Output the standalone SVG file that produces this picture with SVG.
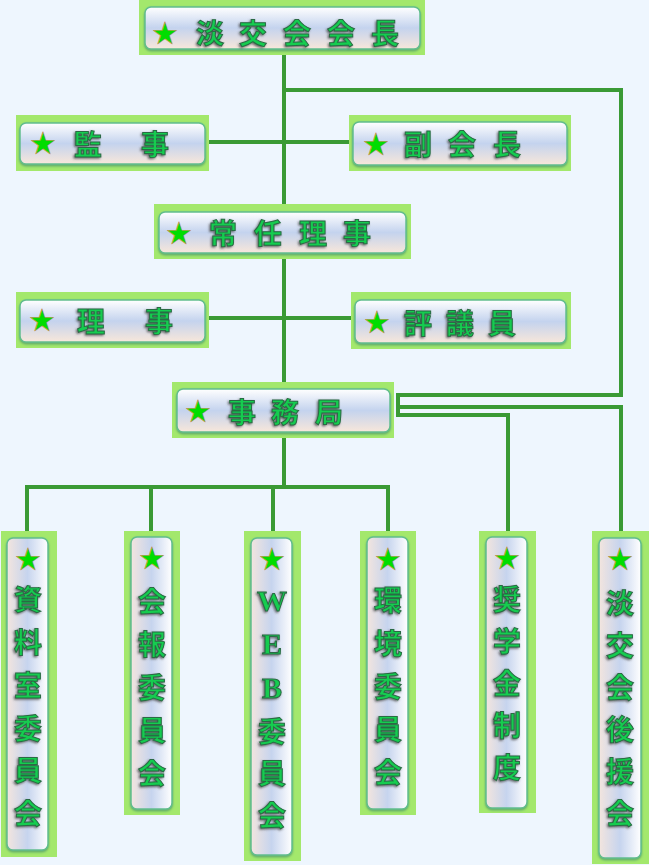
<svg xmlns="http://www.w3.org/2000/svg" width="649" height="865" viewBox="0 0 649 865">
<defs>
<linearGradient id="gh" x1="0" y1="0" x2="0" y2="1">
<stop offset="0" stop-color="#ffffff"/>
<stop offset="0.5" stop-color="#c4d3ee"/>
<stop offset="1" stop-color="#f8e7da"/>
</linearGradient>
<linearGradient id="gv" x1="0" y1="0" x2="1" y2="0">
<stop offset="0" stop-color="#f3e5de"/>
<stop offset="0.5" stop-color="#c6d4ee"/>
<stop offset="1" stop-color="#ffffff"/>
</linearGradient>
<filter id="bs" x="-20%" y="-20%" width="140%" height="140%">
<feDropShadow dx="0" dy="1.5" stdDeviation="1.2" flood-color="#3a8a6a" flood-opacity="0.7"/>
</filter>
<filter id="ts" x="-20%" y="-20%" width="140%" height="140%">
<feDropShadow dx="-1.2" dy="1.2" stdDeviation="0.8" flood-color="#444" flood-opacity="0.8"/>
</filter>
</defs>
<style>
.bg{fill:#eef6fe}
.o{fill:#a3e86c}
.ih{fill:url(#gh);stroke:#62bd8e;stroke-width:1.5;filter:url(#bs)}
.iv{fill:url(#gv);stroke:#62bd8e;stroke-width:1.5;filter:url(#bs)}
.t{font-family:"Noto Sans CJK JP","Noto Sans CJK SC",sans-serif;font-weight:bold;font-size:28px;fill:#12cc50;stroke:#2a6a44;stroke-width:1;text-anchor:middle;dominant-baseline:central;filter:url(#ts)}
.w{font-family:"Liberation Serif",serif;font-weight:bold;font-size:30px}
.s{font-family:"Noto Sans CJK JP","Noto Sans CJK SC",sans-serif;font-size:25px;fill:#00dd00;stroke:#c98a55;stroke-width:0.6;text-anchor:middle;dominant-baseline:central}
.c{fill:none;stroke:#3a9a35;stroke-width:4;stroke-linejoin:miter}
</style>
<rect class="bg" x="0" y="0" width="649" height="865"/>
<g id="connectors">
<path class="c" d="M284,55 V382"/>
<path class="c" d="M284,90 H621 V395 H398 V415 H508 V531"/>
<path class="c" d="M398,407 H621 V531"/>
<path class="c" d="M209,142 H349"/>
<path class="c" d="M209,318 H351"/>
<path class="c" d="M284,438 V487"/>
<path class="c" d="M27,531 V487 H388 V531"/>
<path class="c" d="M151,487 V531"/>
<path class="c" d="M273,487 V531"/>
</g>
<g id="n-kaicho">
<rect class="o" x="139" y="0" width="286" height="55"/>
<rect class="ih" x="145" y="7" width="275" height="42" rx="6"/>
<text class="s" x="165" y="31">★</text>
<text class="t" x="210" y="32">淡</text>
<text class="t" x="253" y="32">交</text>
<text class="t" x="297" y="32">会</text>
<text class="t" x="341" y="32">会</text>
<text class="t" x="385" y="32">長</text>
</g>
<g id="n-kanji">
<rect class="o" x="16" y="115" width="193" height="56"/>
<rect class="ih" x="20" y="123" width="185" height="41" rx="6"/>
<text class="s" x="43" y="141">★</text>
<text class="t" x="88" y="143">監</text>
<text class="t" x="155" y="143">事</text>
</g>
<g id="n-fukukaicho">
<rect class="o" x="349" y="115" width="222" height="56"/>
<rect class="ih" x="353" y="122" width="214" height="43" rx="6"/>
<text class="s" x="376" y="142">★</text>
<text class="t" x="418" y="143">副</text>
<text class="t" x="462" y="143">会</text>
<text class="t" x="507" y="143">長</text>
</g>
<g id="n-joninriji">
<rect class="o" x="154" y="204" width="257" height="55"/>
<rect class="ih" x="159" y="212" width="247" height="41" rx="6"/>
<text class="s" x="179" y="231">★</text>
<text class="t" x="223" y="232">常</text>
<text class="t" x="268" y="232">任</text>
<text class="t" x="313" y="232">理</text>
<text class="t" x="357" y="232">事</text>
</g>
<g id="n-riji">
<rect class="o" x="16" y="292" width="193" height="56"/>
<rect class="ih" x="20" y="300" width="185" height="42" rx="6"/>
<text class="s" x="42" y="318">★</text>
<text class="t" x="91" y="320">理</text>
<text class="t" x="159" y="320">事</text>
</g>
<g id="n-hyogiin">
<rect class="o" x="351" y="292" width="220" height="57"/>
<rect class="ih" x="355" y="300" width="211" height="43" rx="6"/>
<text class="s" x="377" y="320">★</text>
<text class="t" x="418" y="322">評</text>
<text class="t" x="460" y="322">議</text>
<text class="t" x="502" y="322">員</text>
</g>
<g id="n-jimukyoku">
<rect class="o" x="172" y="382" width="222" height="56"/>
<rect class="ih" x="177" y="389" width="213" height="43" rx="6"/>
<text class="s" x="198" y="409">★</text>
<text class="t" x="242" y="411">事</text>
<text class="t" x="285" y="411">務</text>
<text class="t" x="329" y="411">局</text>
</g>
<g id="n-shiryoshitsu">
<rect class="o" x="1" y="531" width="56" height="326"/>
<rect class="iv" x="7" y="538" width="41" height="312" rx="6"/>
<text class="s" x="28" y="557">★</text>
<text class="t" x="28" y="598">資</text>
<text class="t" x="28" y="641">料</text>
<text class="t" x="28" y="684">室</text>
<text class="t" x="28" y="727">委</text>
<text class="t" x="28" y="769">員</text>
<text class="t" x="28" y="812">会</text>
</g>
<g id="n-kaiho">
<rect class="o" x="124" y="531" width="56" height="284"/>
<rect class="iv" x="131" y="537" width="41" height="272" rx="6"/>
<text class="s" x="152" y="556">★</text>
<text class="t" x="152" y="600">会</text>
<text class="t" x="152" y="643">報</text>
<text class="t" x="152" y="686">委</text>
<text class="t" x="152" y="729">員</text>
<text class="t" x="152" y="772">会</text>
</g>
<g id="n-web">
<rect class="o" x="244" y="531" width="57" height="330"/>
<rect class="iv" x="251" y="538" width="41" height="317" rx="6"/>
<text class="s" x="272" y="557">★</text>
<text class="t w" x="272" y="600">W</text>
<text class="t w" x="272" y="643">E</text>
<text class="t w" x="272" y="687">B</text>
<text class="t" x="272" y="730">委</text>
<text class="t" x="272" y="772">員</text>
<text class="t" x="272" y="814">会</text>
</g>
<g id="n-kankyo">
<rect class="o" x="360" y="531" width="56" height="284"/>
<rect class="iv" x="367" y="537" width="41" height="272" rx="6"/>
<text class="s" x="388" y="557">★</text>
<text class="t" x="388" y="599">環</text>
<text class="t" x="388" y="642">境</text>
<text class="t" x="388" y="685">委</text>
<text class="t" x="388" y="728">員</text>
<text class="t" x="388" y="771">会</text>
</g>
<g id="n-shogakukin">
<rect class="o" x="479" y="531" width="57" height="282"/>
<rect class="iv" x="486" y="537" width="41" height="271" rx="6"/>
<text class="s" x="507" y="556">★</text>
<text class="t" x="507" y="598">奨</text>
<text class="t" x="507" y="640">学</text>
<text class="t" x="507" y="682">金</text>
<text class="t" x="507" y="724">制</text>
<text class="t" x="507" y="766">度</text>
</g>
<g id="n-koenkai">
<rect class="o" x="592" y="531" width="57" height="333"/>
<rect class="iv" x="599" y="538" width="42" height="320" rx="6"/>
<text class="s" x="620" y="557">★</text>
<text class="t" x="620" y="602">淡</text>
<text class="t" x="620" y="644">交</text>
<text class="t" x="620" y="686">会</text>
<text class="t" x="620" y="728">後</text>
<text class="t" x="620" y="770">援</text>
<text class="t" x="620" y="812">会</text>
</g>
</svg>
